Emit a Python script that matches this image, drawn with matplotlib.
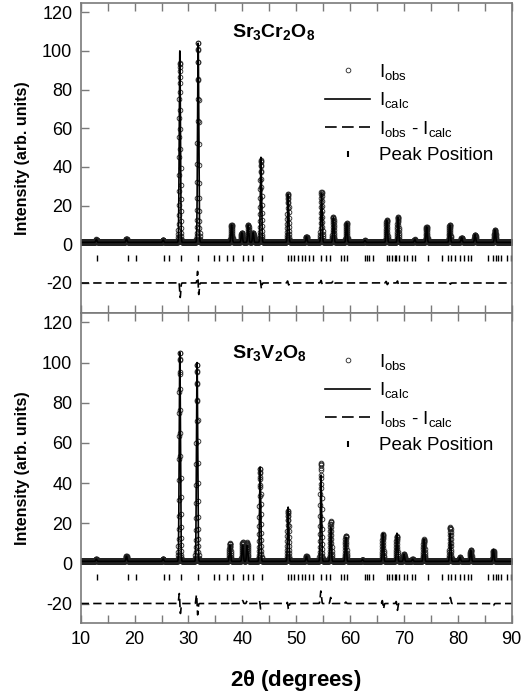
import numpy as np
import matplotlib.pyplot as plt
from matplotlib.lines import Line2D

plt.rcParams["font.family"] = "Liberation Sans"
plt.rcParams["mathtext.fontset"] = "custom"
plt.rcParams["mathtext.rm"] = "Liberation Sans"
plt.rcParams["mathtext.bf"] = "Liberation Sans:bold"
plt.rcParams["mathtext.it"] = "Liberation Sans:italic"
plt.rcParams["axes.unicode_minus"] = False

# Sr3Cr2O8: reflection positions (2theta) and calculated heights above background
cr_peak_pos = [12.9, 18.5, 25.3, 28.4, 31.8, 38.0, 39.9, 41.1, 42.0, 43.45, 48.5, 51.9,
               54.7, 56.9, 59.35, 62.75, 66.8, 68.9, 72.0, 74.2, 78.5, 80.7, 83.2, 86.9]
cr_peak_int = [1.5, 1.8, 1.2, 99, 103, 9, 5, 9, 5, 44, 25, 3,
               25.5, 13, 10, 1, 11.5, 13, 1.5, 8, 9, 2.5, 4, 6.5]
# Sr3Cr2O8: misfit features (position, peak-shift amplitude, excess amplitude)
cr_diff_pos = [28.4, 31.8, 43.45, 48.5, 54.7, 56.9, 66.8, 68.9, 78.5]
cr_diff_shift = [3, 6, 2, 1, 1, 0.8, 0.8, 1, 0.6]
cr_diff_excess = [-6, 0, -1.5, 0, 0.5, 0, 0, 0, 0]

# Sr3V2O8
v_peak_pos = [12.9, 18.5, 25.3, 28.4, 31.6, 37.7, 40.05, 40.9, 43.3, 48.5, 51.9, 54.6,
              56.4, 59.2, 62.3, 66.1, 68.7, 70.0, 71.6, 73.7, 78.6, 80.4, 82.4, 86.6]
v_peak_int = [1, 2.5, 1.2, 104, 99, 8, 8, 8, 47, 27, 2.5, 43,
              17, 12, 0.8, 14, 14, 3.5, 1, 11, 14, 2, 5.5, 6]
v_diff_pos = [28.4, 31.6, 37.7, 40.05, 40.9, 43.3, 48.5, 54.6, 56.4, 59.2, 66.1, 68.7, 78.6, 86.6]
v_diff_shift = [5, 5, 0, 0, 0, 2, 1.5, 1, 0, 0, 2, 2, 0, 0]
v_diff_excess = [0, -1, 1, 1.5, 1.5, -1, -2, 6, 3, 0.7, -1, -2, 3, -1]

# allowed reflection markers (same cell type for both compounds)
hkl_pos = [12.97, 18.8, 20.26, 25.45, 26.45, 28.55, 31.8, 34.7, 35.7, 37.1, 38.2, 40.05,
           41.0, 41.9, 43.6, 48.5, 48.95, 49.6, 50.4, 51.0, 51.6, 52.4, 53.15, 54.6,
           55.6, 56.25, 58.4, 58.85, 59.35, 62.75, 63.05, 63.55, 64.3, 66.8, 67.25, 67.7,
           68.3, 68.6, 69.1, 70.0, 70.6, 71.4, 72.0, 74.5, 77.0, 78.2, 78.8, 79.4, 80.35,
           81.1, 81.9, 82.5, 85.6, 86.55, 87.05, 87.5, 88.1, 89.05, 89.95]

background = 1.0
sigma = 0.11
two_theta = np.arange(10, 90.001, 0.02)
two_theta_fine = np.arange(10, 90.001, 0.005)


def calc_pattern(x, pos, amp):
    u = (x[:, None] - np.asarray(pos)) / sigma
    return background + (np.asarray(amp) * np.exp(-0.5 * u ** 2)).sum(axis=1)


def misfit(x, pos, shift, excess):
    u = (x[:, None] - np.asarray(pos)) / sigma
    g = np.exp(-0.5 * u ** 2)
    return (-np.asarray(shift) * u * np.exp(0.5) * g + np.asarray(excess) * g).sum(axis=1)


fig = plt.figure(figsize=(5.22, 7.0), dpi=100)
ax_top = fig.add_axes([0.1546, 0.5529, 0.8257, 0.4429])
ax_bot = fig.add_axes([0.1546, 0.11, 0.8257, 0.4429])

panels = [
    (ax_top, cr_peak_pos, cr_peak_int, cr_diff_pos, cr_diff_shift, cr_diff_excess,
     r"$\mathbf{Sr_3Cr_2O_8}$", (-35.5, 124.8), 109.8, 0.81),
    (ax_bot, v_peak_pos, v_peak_int, v_diff_pos, v_diff_shift, v_diff_excess,
     r"$\mathbf{Sr_3V_2O_8}$", (-29.7, 124.7), 104.8, 0.875),
]

dash = (0, (5, 2.5))
spine_col = "#7a7a7a"

for ax, pos, amp, dpos, dshift, dexc, name, ylim, name_y, leg_y in panels:
    calc_obs = calc_pattern(two_theta, pos, amp)
    diff = misfit(two_theta, dpos, dshift, dexc)
    obs = calc_obs + diff
    calc_line = calc_pattern(two_theta_fine, pos, amp)

    ax.plot(two_theta, obs, ls="none", marker="o", ms=3.4, mfc="none",
            mec="#222222", mew=0.6)
    ax.plot(two_theta_fine, calc_line, color="black", lw=1.2)
    ax.plot(two_theta, diff - 20, color="black", lw=1.2, ls=dash)
    ax.plot(hkl_pos, np.full(len(hkl_pos), -7.0), ls="none", marker="|",
            ms=4, mew=1.0, color="black")

    ax.set_xlim(10, 90)
    ax.set_ylim(*ylim)
    ax.set_yticks(range(-20, 121, 20))
    ax.set_xticks(range(10, 91, 10))
    ax.set_xticks(range(15, 90, 10), minor=True)
    ax.tick_params(which="both", direction="in", length=6, width=1.0,
                   color=spine_col, labelsize=13, pad=6, top=True)
    for sp in ax.spines.values():
        sp.set_color(spine_col)
        sp.set_linewidth(1.2)
    ax.set_ylabel("Intensity (arb. units)", fontsize=11.5, fontweight="bold", labelpad=9)
    ax.text(38.1, name_y, name, fontsize=14, ha="left", va="center")

    handles = [
        Line2D([], [], ls="none", marker="o", ms=3.4, mfc="none", mec="#222222", mew=0.6),
        Line2D([], [], color="black", lw=1.2),
        Line2D([], [], color="black", lw=1.2, ls=(0, (7, 3.2))),
        Line2D([], [], ls="none", marker="|", ms=4, mew=1.5, color="black"),
    ]
    labels = [r"I$_{\mathrm{obs}}$", r"I$_{\mathrm{calc}}$",
              r"I$_{\mathrm{obs}}$ - I$_{\mathrm{calc}}$", "Peak Position"]
    ax.legend(handles, labels, loc="upper left", bbox_to_anchor=(0.567, leg_y),
              frameon=False, fontsize=13.5, handlelength=2.4, handletextpad=0.45,
              labelspacing=0.45, borderpad=0, borderaxespad=0)

ax_top.tick_params(labelbottom=False)
ax_bot.set_xlabel(r"2$\mathbf{\theta}$ (degrees)", fontsize=16, fontweight="bold", labelpad=14)

fig.savefig("out.png", dpi=100)
